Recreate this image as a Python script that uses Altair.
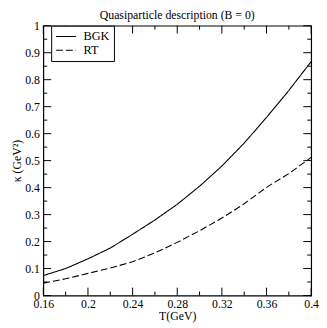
import altair as alt
import pandas as pd

T = [0.16, 0.18, 0.20, 0.22, 0.24, 0.26, 0.28, 0.30, 0.32, 0.34, 0.36, 0.38, 0.40]
bgk = [0.074, 0.100, 0.136, 0.176, 0.227, 0.280, 0.338, 0.405, 0.480, 0.565, 0.660, 0.760, 0.867]
rt = [0.046, 0.062, 0.082, 0.102, 0.125, 0.158, 0.197, 0.240, 0.287, 0.340, 0.401, 0.452, 0.512]
series = ["BGK", "RT"]

x_major = [0.16, 0.20, 0.24, 0.28, 0.32, 0.36, 0.40]
x_minor = [0.18, 0.22, 0.26, 0.30, 0.34, 0.38]
y_major = [0.0, 0.1, 0.2, 0.3, 0.4, 0.5, 0.6, 0.7, 0.8, 0.9, 1.0]
y_minor = [0.05, 0.15, 0.25, 0.35, 0.45, 0.55, 0.65, 0.75, 0.85, 0.95]

W, H = 273, 275
FONT = "Liberation Serif"

df = pd.DataFrame(
    {"T": T * 2, "kappa": bgk + rt, "series": [series[0]] * len(T) + [series[1]] * len(T)}
)

xs = alt.Scale(domain=[0.16, 0.40], nice=False, zero=False)
ys = alt.Scale(domain=[0, 1], nice=False)

xaxis = alt.Axis(
    values=x_major, format="~g", ticks=False, domain=False, grid=False,
    labelOverlap=False, labelFlush=False,
    labelFont=FONT, labelFontSize=12, labelColor="black", labelPadding=3,
    title="T(GeV)", titleFont=FONT, titleFontSize=12, titleFontWeight="normal",
    titleColor="black", titlePadding=1,
)
yaxis = alt.Axis(
    values=y_major, format="~g", ticks=False, domain=False, grid=False,
    labelOverlap=False, labelFlush=False,
    labelFont=FONT, labelFontSize=12, labelColor="black", labelPadding=4,
    title="κ (GeV²)", titleFont=FONT, titleFontSize=12, titleFontWeight="normal",
    titleColor="black", titlePadding=1,
)

lines = alt.Chart(df).mark_line(color="black", strokeWidth=1.1).encode(
    x=alt.X("T:Q", scale=xs, axis=xaxis),
    y=alt.Y("kappa:Q", scale=ys, axis=yaxis),
    strokeDash=alt.StrokeDash(
        "series:N",
        scale=alt.Scale(domain=series, range=[[1, 0], [7, 3]]),
        legend=alt.Legend(
            title=None, orient="none", legendX=8, legendY=0,
            strokeColor="black", fillColor="white", padding=4,
            labelFont=FONT, labelFontSize=12.5, labelColor="black",
            symbolType="M-1,0L2.4,0", symbolStrokeColor="black", symbolSize=144,
            symbolStrokeWidth=1.1, rowPadding=0, labelOffset=15,
        ),
    ),
)


def tick_layers(vals, length, axis):
    d = pd.DataFrame({"v": vals})
    base = alt.Chart(d).mark_rule(color="black", strokeWidth=1)
    if axis == "x":
        enc = alt.X("v:Q", scale=xs, axis=xaxis, title="T(GeV)")
        return [
            base.encode(x=enc, y=alt.value(H), y2=alt.value(H - length)),
            base.encode(x=enc, y=alt.value(0), y2=alt.value(length)),
        ]
    enc = alt.Y("v:Q", scale=ys, axis=yaxis, title="κ (GeV²)")
    return [
        base.encode(y=enc, x=alt.value(0), x2=alt.value(length)),
        base.encode(y=enc, x=alt.value(W), x2=alt.value(W - length)),
    ]


ticks = (
    tick_layers(x_major, 8, "x") + tick_layers(x_minor, 4, "x")
    + tick_layers(y_major, 8, "y") + tick_layers(y_minor, 4, "y")
)

chart = alt.layer(lines, *ticks).properties(
    width=W,
    height=H,
    title=alt.Title(
        "Quasiparticle description  (B = 0)",
        font=FONT, fontSize=12, fontWeight="normal", color="black",
        frame="group", offset=2, dy=4,
    ),
    autosize=alt.AutoSizeParams(type="none"),
    padding={"left": 36, "top": 15, "right": 8, "bottom": 28},
).configure_view(stroke="black", strokeWidth=1.2)

chart.save("out.html", embed_options={"renderer": "svg", "actions": False})
